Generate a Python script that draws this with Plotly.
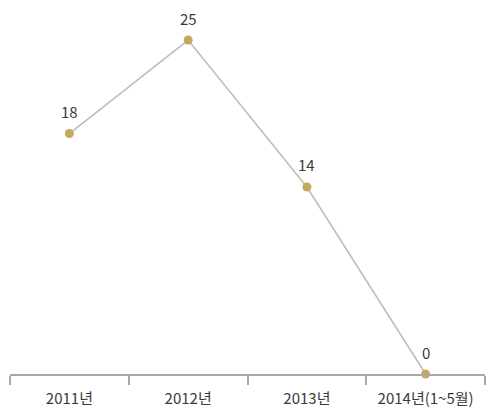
import plotly.graph_objects as go

years = ["2011년", "2012년", "2013년", "2014년(1~5월)"]
counts = [18, 25, 14, 0]

line_color = "#bdbdbd"
dot_color = "#c6a95e"
text_color = "#3a3a3a"
font_family = "Noto Sans CJK KR, Noto Sans, sans-serif"

fig = go.Figure()

fig.add_trace(
    go.Scatter(
        x=years,
        y=counts,
        mode="lines+markers",
        line={"color": line_color, "width": 1.6},
        marker={"color": dot_color, "size": 9},
        cliponaxis=False,
        hoverinfo="skip",
    )
)

# value labels above each point
for yr, val in zip(years, counts):
    fig.add_annotation(
        x=yr,
        y=val,
        text=str(val),
        showarrow=False,
        yshift=22,
        font={"size": 15, "color": text_color, "family": font_family},
    )

fig.update_xaxes(
    type="category",
    range=[-0.5, 3.5],
    showline=True,
    linecolor="#a8a8a8",
    linewidth=1.5,
    ticks="outside",
    tickson="boundaries",
    ticklen=9,
    tickcolor="#a8a8a8",
    tickwidth=1.5,
    showgrid=False,
    ticklabelstandoff=10,
    tickfont={"size": 15, "color": text_color, "family": font_family},
)

fig.update_yaxes(
    range=[0, 26.5],
    visible=False,
    showgrid=False,
    zeroline=False,
)

# page body keeps an 8px margin, so the figure is sized to fit inside it
fig.update_layout(
    width=484,
    height=401,
    showlegend=False,
    plot_bgcolor="white",
    paper_bgcolor="white",
    margin=dict(l=2, r=7, t=12, b=35),
)

fig.write_html("out.html")
